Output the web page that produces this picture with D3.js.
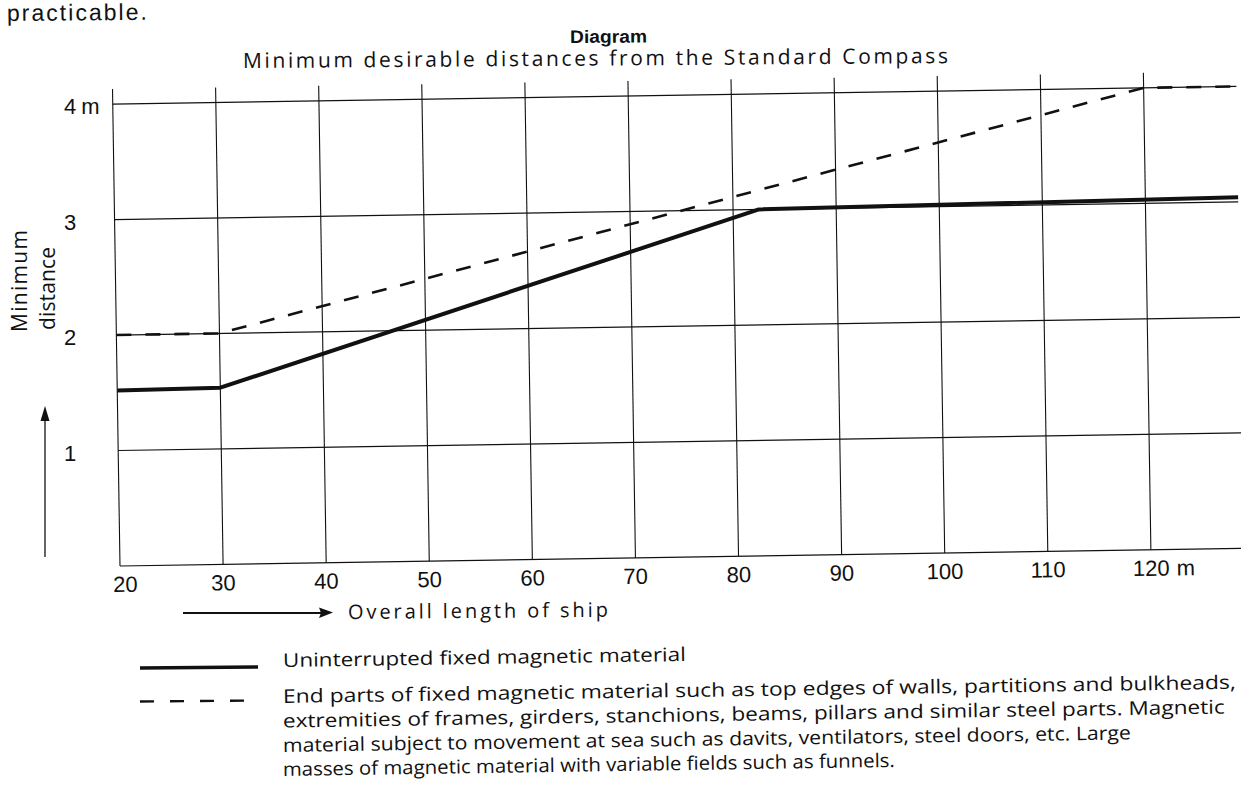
<!DOCTYPE html>
<html><head><meta charset="utf-8">
<script src="https://cdn.jsdelivr.net/npm/d3@7"></script>
<style>
html,body{margin:0;padding:0;background:#fff;}
svg{display:block;}
text{font-family:"Liberation Sans",Arial,Helvetica,sans-serif;fill:#111;}
.os{font-family:"Open Sans","Liberation Sans",Arial,sans-serif;}
</style></head><body>
<svg id="chart" width="1241" height="790"></svg>
<script>
// ---- data ----
const xTicks = [20, 30, 40, 50, 60, 70, 80, 90, 100, 110, 120];
const xTickLabels = ["20", "30", "40", "50", "60", "70", "80", "90", "100", "110", "120"];
const xUnit = "m";
const yTicks = [1, 2, 3, 4];
const yTickLabels = ["1", "2", "3", "4"];
const yUnit = "m";
const yGrid = [0, 1, 2, 3, 4];
const solidLengths = [20, 30, 82.5, 129];
const solidDistances = [1.52, 1.53, 3.0, 3.04];
const dashedLengths = [20, 30, 120, 129];
const dashedDistances = [2.0, 2.0, 4.0, 4.0];
const headText = "practicable.";
const diagramText = "Diagram";
const titleText = "Minimum desirable distances from the Standard Compass";
const yTitleLines = ["Minimum", "distance"];
const xTitle = "Overall length of ship";
const legendSolid = ["Uninterrupted fixed magnetic material"];
const legendDashed = [
  "End parts of fixed magnetic material such as top edges of walls, partitions and bulkheads,",
  "extremities of frames, girders, stanchions, beams, pillars and similar steel parts. Magnetic",
  "material subject to movement at sea such as davits, ventilators, steel doors, etc. Large",
  "masses of magnetic material with variable fields such as funnels."
];

// ---- layout ----
const svg = d3.select("#chart");
const ink = "#111";
const x = d3.scaleLinear().domain([20, 120]).range([0, 1031]);
const y = d3.scaleLinear().domain([0, 4]).range([0, -462]);
const tilt = -0.9;

// header texts
svg.append("text").attr("x", 7).attr("y", 21)
  .attr("font-size", 23).attr("textLength", 140).attr("lengthAdjust", "spacing")
  .attr("transform", "rotate(-0.5,7,21)").text(headText);
svg.append("text").attr("x", 570).attr("y", 43)
  .attr("font-size", 18).attr("font-weight", "bold")
  .attr("textLength", 77).attr("lengthAdjust", "spacingAndGlyphs")
  .attr("transform", "rotate(-0.4,570,43)").text(diagramText);
svg.append("text").attr("class", "os").attr("x", 243).attr("y", 68)
  .attr("font-size", 21).attr("textLength", 705).attr("lengthAdjust", "spacing")
  .attr("transform", "rotate(-0.4,243,68)").text(titleText);

// plot group
const g = svg.append("g").attr("transform", `translate(120,566) rotate(${tilt})`);
const xEnd = x(129);

g.selectAll("line.h").data(yGrid).join("line").attr("class", "h")
  .attr("x1", x(20)).attr("x2", xEnd)
  .attr("y1", d => y(d)).attr("y2", d => y(d))
  .attr("stroke", ink).attr("stroke-width", 1.2);
g.selectAll("line.v").data(xTicks).join("line").attr("class", "v")
  .attr("x1", d => x(d)).attr("x2", d => x(d))
  .attr("y1", y(0)).attr("y2", y(4) - 15)
  .attr("stroke", ink).attr("stroke-width", 1.1);

const line = d3.line().x(d => x(d[0])).y(d => y(d[1]));
g.append("path").datum(dashedLengths.map((v, i) => [v, dashedDistances[i]]))
  .attr("d", line).attr("fill", "none").attr("stroke", ink)
  .attr("stroke-width", 2.6).attr("stroke-dasharray", "15,14");
g.append("path").datum(solidLengths.map((v, i) => [v, solidDistances[i]]))
  .attr("d", line).attr("fill", "none").attr("stroke", ink)
  .attr("stroke-width", 4).attr("stroke-linejoin", "round");

// x tick labels
const xl = g.selectAll("text.xl").data(xTicks).join("text").attr("class", "xl")
  .attr("x", (d, i) => x(d) + (i === 0 ? 5 : 0)).attr("y", 26)
  .attr("text-anchor", "middle").attr("font-size", 22)
  .text((d, i) => xTickLabels[i]);
const lastX = xl.filter((d, i) => i === xTicks.length - 1);
const lw = lastX.node().getComputedTextLength();
g.append("text").attr("x", x(120) + lw / 2 + 7).attr("y", 26)
  .attr("font-size", 22).text(xUnit);

// y tick labels (placed visually beside the grid)
const yl = svg.selectAll("text.yl").data(yTicks).join("text").attr("class", "yl")
  .attr("x", 70).attr("y", d => 566 + y(d) + 10)
  .attr("text-anchor", "middle").attr("font-size", 22)
  .text((d, i) => yTickLabels[i]);
const topY = yl.filter((d, i) => i === yTicks.length - 1);
const tw = topY.node().getComputedTextLength();
svg.append("text").attr("x", 70 + tw / 2 + 5).attr("y", 566 + y(4) + 10)
  .attr("font-size", 22).text(yUnit);

// y title
svg.append("text").attr("class", "os").attr("transform", "translate(27,332) rotate(-90)")
  .attr("font-size", 21).attr("textLength", 102).attr("lengthAdjust", "spacing")
  .text(yTitleLines[0]);
svg.append("text").attr("class", "os").attr("transform", "translate(55,330) rotate(-90)")
  .attr("font-size", 21).attr("textLength", 83).attr("lengthAdjust", "spacing")
  .text(yTitleLines[1]);
// y arrow
svg.append("line").attr("x1", 45).attr("y1", 557).attr("x2", 45).attr("y2", 418)
  .attr("stroke", ink).attr("stroke-width", 1.3);
svg.append("path").attr("d", "M45,406 L40.5,421 L49.5,421 Z").attr("fill", ink);

// x title + arrow
svg.append("line").attr("x1", 183).attr("y1", 613).attr("x2", 322).attr("y2", 613)
  .attr("stroke", ink).attr("stroke-width", 2);
svg.append("path").attr("d", "M333,612.5 L319,607.5 L321,613 L319,618 Z").attr("fill", ink);
svg.append("text").attr("class", "os").attr("x", 348).attr("y", 619)
  .attr("font-size", 20).attr("textLength", 260).attr("lengthAdjust", "spacing")
  .attr("transform", "rotate(-0.5,348,619)").text(xTitle);

// legend
svg.append("line").attr("x1", 140).attr("y1", 668).attr("x2", 258).attr("y2", 667)
  .attr("stroke", ink).attr("stroke-width", 3.5);
svg.append("line").attr("x1", 140).attr("y1", 701.5).attr("x2", 258).attr("y2", 700.5)
  .attr("stroke", ink).attr("stroke-width", 2.4).attr("stroke-dasharray", "14,16");
const legBase = [667, 703, 727.5, 752, 776];
const legLengths = [403, 953, 942, 848, 612];
const allLeg = legendSolid.concat(legendDashed);
svg.selectAll("text.leg").data(allLeg).join("text").attr("class", "leg os")
  .attr("x", 283).attr("y", (d, i) => legBase[i])
  .attr("font-size", 19)
  .attr("textLength", (d, i) => legLengths[i]).attr("lengthAdjust", "spacingAndGlyphs")
  .attr("transform", (d, i) => `rotate(-0.85,283,${legBase[i]})`)
  .text(d => d);
</script>
</body></html>
